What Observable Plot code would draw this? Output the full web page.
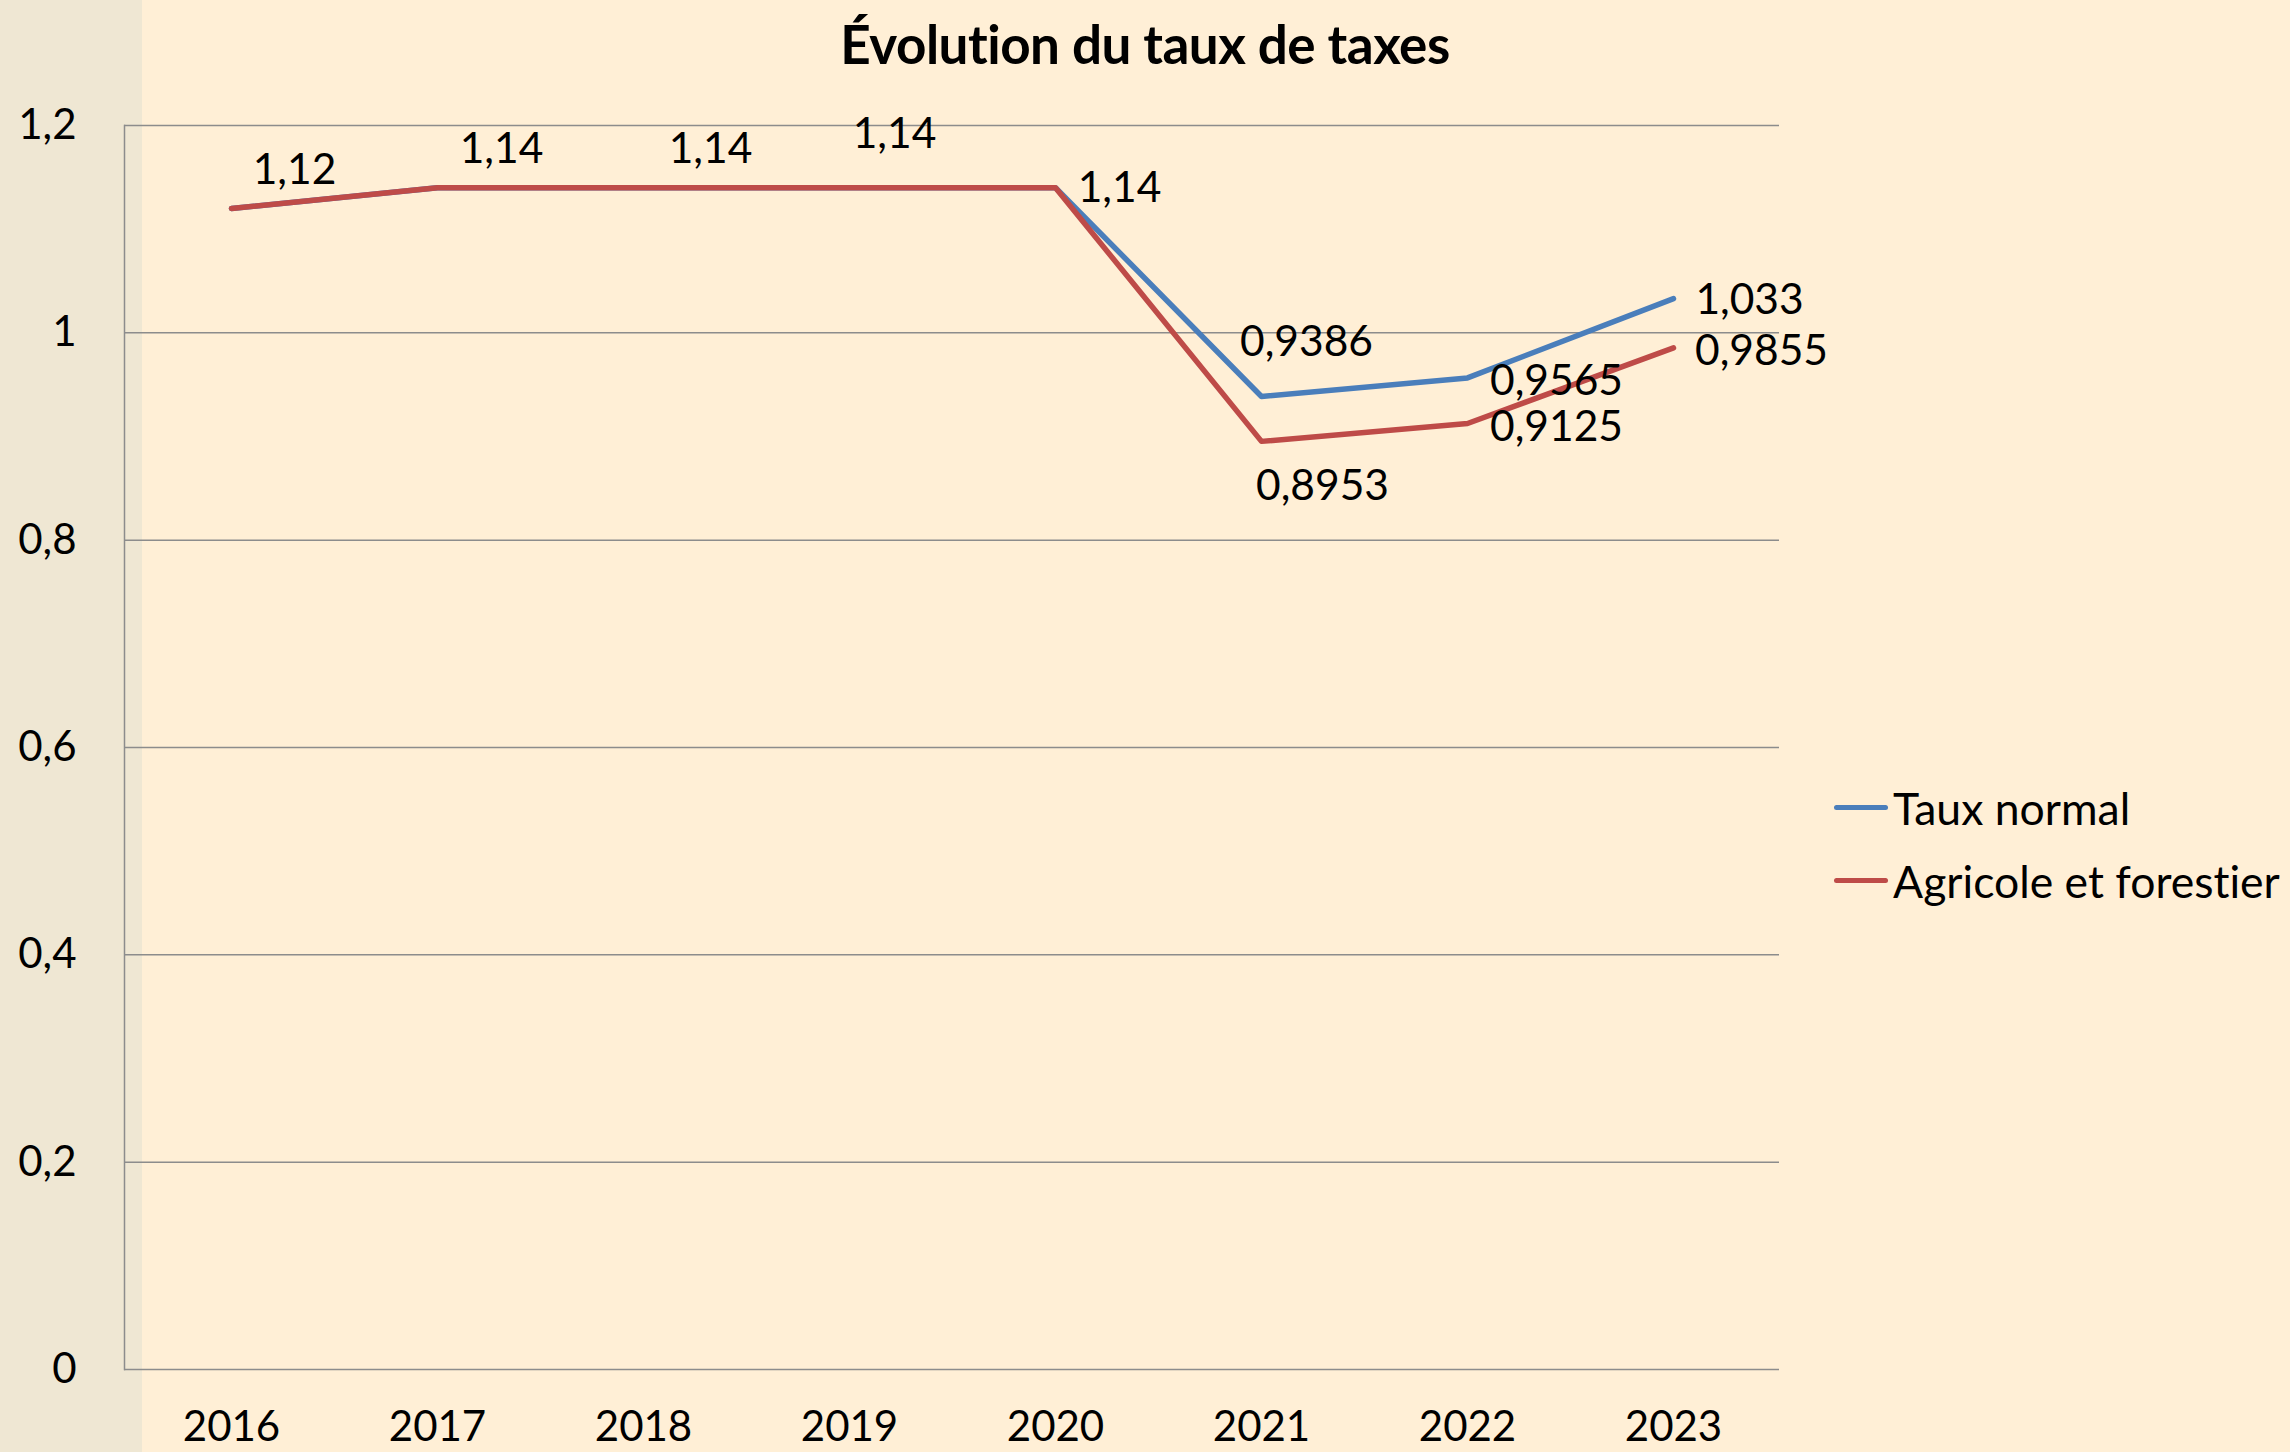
<!DOCTYPE html>
<html>
<head>
<meta charset="utf-8">
<script src="https://cdn.jsdelivr.net/npm/d3@7"></script>
<script src="https://cdn.jsdelivr.net/npm/@observablehq/plot@0.6"></script>
<style>
  html, body { margin: 0; padding: 0; background: #FFEFD6; }
  #page { position: relative; width: 2290px; height: 1452px; background: #FFEFD6; overflow: hidden; font-family: Lato, "Open Sans", sans-serif; color: #000; font-variant-ligatures: none; }
  #strip { position: absolute; left: 0; top: 0; width: 142px; height: 1452px; background: #EFE7D3; }
  #title { position: absolute; left: 0; top: 0; width: 2290px; height: 88px; line-height: 88px; text-align: center; font-weight: 700; font-size: 53px; letter-spacing: -0.5px; }
  #chart { position: absolute; left: 0; top: 88px; }
  #legend { position: absolute; left: 1834px; top: 771px; font-size: 44.5px; }
  .item { display: flex; align-items: center; height: 73px; }
  .swatch { width: 54px; height: 5px; border-radius: 2.5px; margin-right: 5px; }
</style>
</head>
<body>
<div id="page">
  <div id="strip"></div>
  <div id="title">Évolution du taux de taxes</div>
  <div id="chart"></div>
  <div id="legend"></div>
</div>
<script>
// ---- Data ----
const years = ["2016", "2017", "2018", "2019", "2020", "2021", "2022", "2023"];
const seriesNames = ["Taux normal", "Agricole et forestier"];
const tauxNormal = [1.12, 1.14, 1.14, 1.14, 1.14, 0.9386, 0.9565, 1.033];
const agricole = [1.12, 1.14, 1.14, 1.14, 1.14, 0.8953, 0.9125, 0.9855];
const yTicks = [0, 0.2, 0.4, 0.6, 0.8, 1, 1.2];
const seriesColors = ["#4A7EBB", "#BE4B48"];

// Data labels: which series/year gets a visible label, and its placement offset
const labelSeries = ["Agricole et forestier", "Agricole et forestier", "Agricole et forestier", "Agricole et forestier", "Agricole et forestier",
                     "Taux normal", "Agricole et forestier", "Taux normal", "Agricole et forestier", "Taux normal", "Agricole et forestier"];
const labelYears = ["2016", "2017", "2018", "2019", "2020", "2021", "2021", "2022", "2022", "2023", "2023"];
const labelDx = [63, 64, 67, 45, 64, 45, 61, 89, 89, 76, 88];
const labelDy = [-38, -38, -38, -53, 1, -54, 45, 3, 4, 2, 4];

// ---- Build table ----
const valuesBySeries = {"Taux normal": tauxNormal, "Agricole et forestier": agricole};
const rows = [];
seriesNames.forEach(s => years.forEach((y, i) => rows.push({series: s, year: y, value: valuesBySeries[s][i]})));

const fmt = v => String(v).replace(".", ",");

const labelMarks = labelYears.map((yr, k) => {
  const s = labelSeries[k];
  const v = valuesBySeries[s][years.indexOf(yr)];
  return Plot.text([{year: yr, value: v}], {
    x: "year", y: "value", text: d => fmt(d.value),
    dx: labelDx[k], dy: labelDy[k], fill: "#000", fontSize: 42.5, textAnchor: "middle"
  });
});

const W = 2290, H = 1364;
const plot = Plot.plot({
  width: W,
  height: H,
  marginLeft: 124,
  marginRight: 511,
  marginTop: 37,
  marginBottom: 83,
  style: {background: "transparent", fontFamily: "Lato, 'Open Sans', sans-serif", fontSize: "42px", color: "#000", overflow: "visible"},
  x: {type: "point", domain: years, padding: 0.5, label: null},
  y: {domain: [0, 1.2], label: null},
  color: {domain: seriesNames, range: seriesColors},
  marks: [
    Plot.gridY(yTicks, {stroke: "#8C8C8C", strokeOpacity: 1, strokeWidth: 1.5}),
    Plot.frame({anchor: "left", stroke: "#8C8C8C", strokeWidth: 1.5}),
    Plot.axisY({ticks: yTicks, tickSize: 0, tickPadding: 48, tickFormat: fmt, fontSize: 42, fill: "#000"}),
    Plot.axisX({tickSize: 0, tickPadding: 42, fontSize: 42, fill: "#000"}),
    Plot.line(rows, {x: "year", y: "value", z: "series", stroke: "series", strokeWidth: 5.5, strokeLinecap: "round", strokeLinejoin: "round"}),
    ...labelMarks
  ]
});
document.getElementById("chart").appendChild(plot);

// ---- Legend ----
const legend = d3.select("#legend");
seriesNames.forEach((s, i) => {
  const item = legend.append("div").attr("class", "item");
  item.append("div").attr("class", "swatch").style("background", seriesColors[i]);
  item.append("span").text(s);
});
</script>
</body>
</html>
